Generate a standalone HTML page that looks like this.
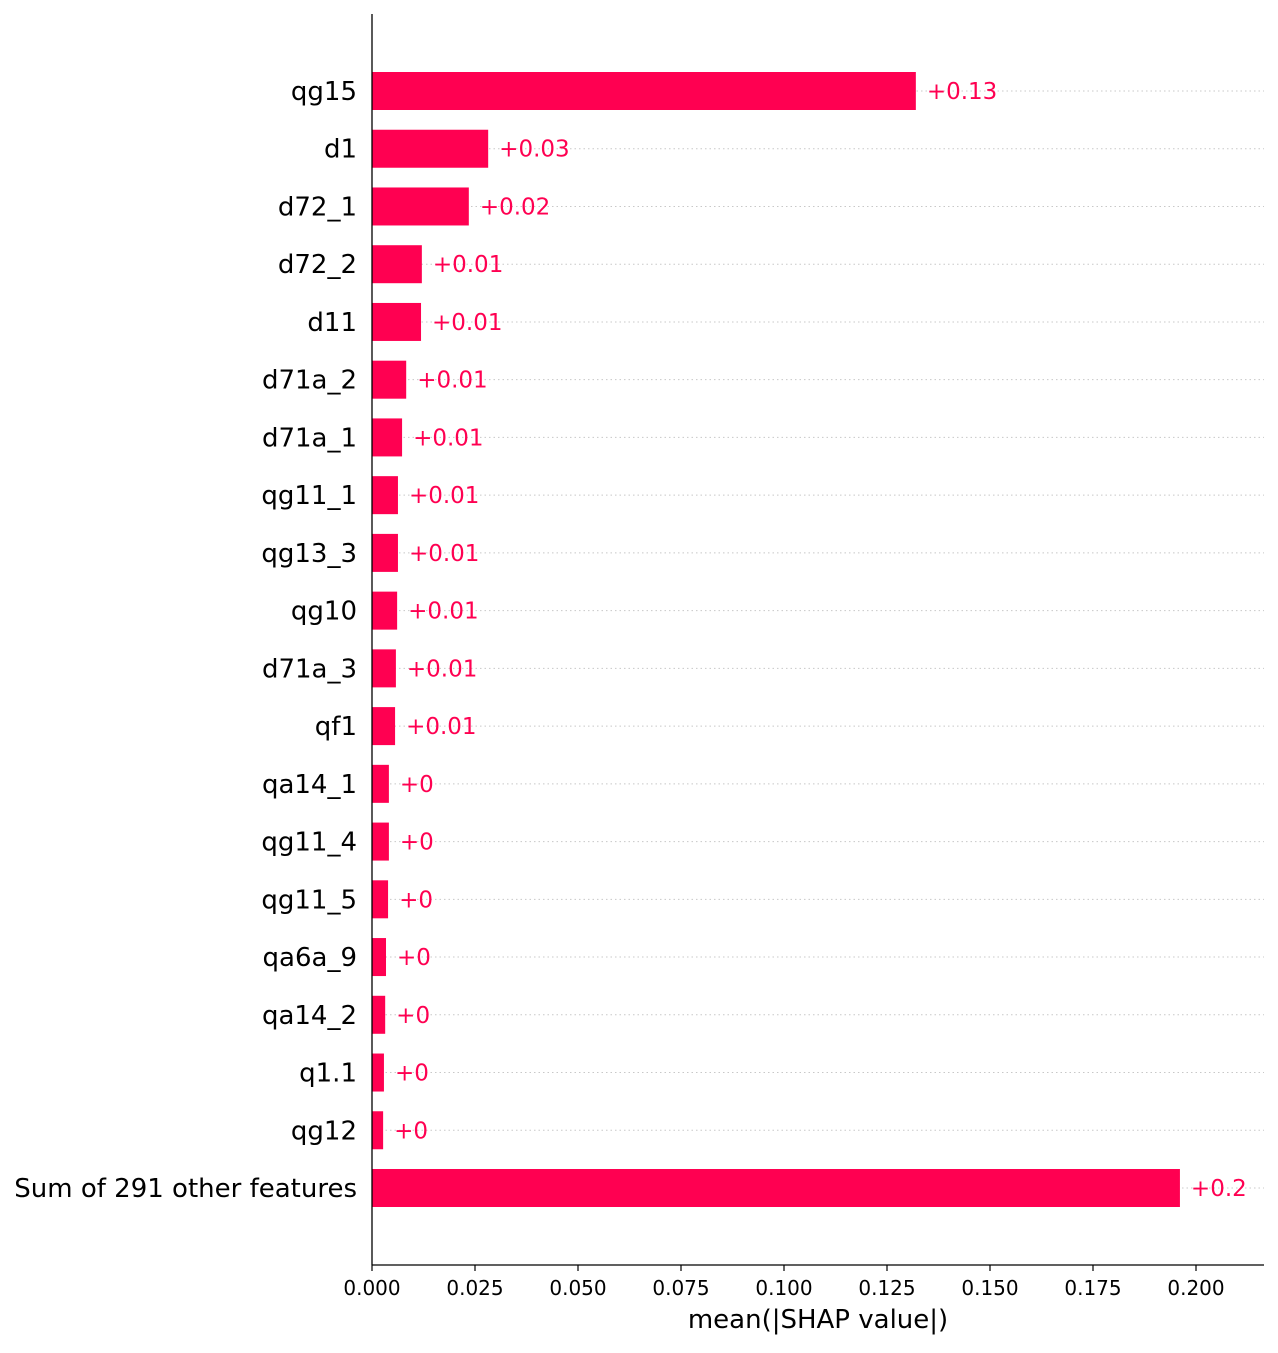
<!DOCTYPE html>
<html><head><meta charset="utf-8"><style>
body{margin:0;background:#fff;}
svg text{font-family:"DejaVu Sans","Liberation Sans",sans-serif;}
</style></head><body>
<svg id="chart" width="1278" height="1348" xmlns="http://www.w3.org/2000/svg"></svg>
<script>
const features = ["qg15","d1","d72_1","d72_2","d11","d71a_2","d71a_1","qg11_1","qg13_3","qg10","d71a_3","qf1","qa14_1","qg11_4","qg11_5","qa6a_9","qa14_2","q1.1","qg12","Sum of 291 other features"];
const values = [0.132,0.0282,0.0235,0.0121,0.0119,0.0083,0.0073,0.0063,0.0063,0.0061,0.0058,0.0056,0.0041,0.0041,0.0039,0.0034,0.0032,0.0029,0.0027,0.1961];
const valueLabels = ["+0.13","+0.03","+0.02","+0.01","+0.01","+0.01","+0.01","+0.01","+0.01","+0.01","+0.01","+0.01","+0","+0","+0","+0","+0","+0","+0","+0.2"];
const xTicks = [0,0.025,0.05,0.075,0.1,0.125,0.15,0.175,0.2];
const xTickLabels = ["0.000","0.025","0.050","0.075","0.100","0.125","0.150","0.175","0.200"];

const svg = document.getElementById('chart');
const NS = "http://www.w3.org/2000/svg";
const x0 = 372, xScale = 4120, xRight = 1264;
const yTop = 14, yBottom = 1265;
const y0 = 91, dy = (1188-91)/19, barH = 38;
const xPos = v => x0 + v * xScale;
const yPos = i => y0 + i * dy;
function el(tag, attrs){const e=document.createElementNS(NS,tag);for(const k in attrs)e.setAttribute(k,attrs[k]);svg.appendChild(e);return e;}

features.forEach((f,i)=>{
  const y = yPos(i);
  const g = el('line',{x1:x0,x2:xRight,y1:y,y2:y,stroke:'#c8c8c8','stroke-width':1,'stroke-dasharray':'1.5,3'});
  
  
});
features.forEach((f,i)=>{
  const y = yPos(i);
  const b = el('rect',{x:x0,y:y-barH/2,width:xPos(values[i])-x0,height:barH,fill:'#ff0051'});
  
  
  const t = el('text',{x:xPos(values[i])+11,y:y+8,fill:'#ff0051','font-size':'23'});
  t.textContent = valueLabels[i];
  
  
  const l = el('text',{x:357,y:y+9,'text-anchor':'end',fill:'#000','font-size':'26'});
  l.textContent = f;
  
  
});
const sp1 = el('line',{x1:x0,x2:x0,y1:yTop,y2:yBottom,stroke:'#000','stroke-width':1.3});


const sp2 = el('line',{x1:x0,x2:xRight,y1:yBottom,y2:yBottom,stroke:'#000','stroke-width':1.3});


xTicks.forEach((v,i)=>{
  const tk = el('line',{x1:xPos(v),x2:xPos(v),y1:yBottom,y2:yBottom+6,stroke:'#000','stroke-width':1.2});
  
  
  const tl = el('text',{x:xPos(v),y:yBottom+30,'text-anchor':'middle','font-size':'20',fill:'#000'});
  tl.textContent = xTickLabels[i];
  
  
});
const title = el('text',{x:818,y:1328,'text-anchor':'middle','font-size':'26',fill:'#000'});
title.textContent = 'mean(|SHAP value|)';


</script>
</body></html>
